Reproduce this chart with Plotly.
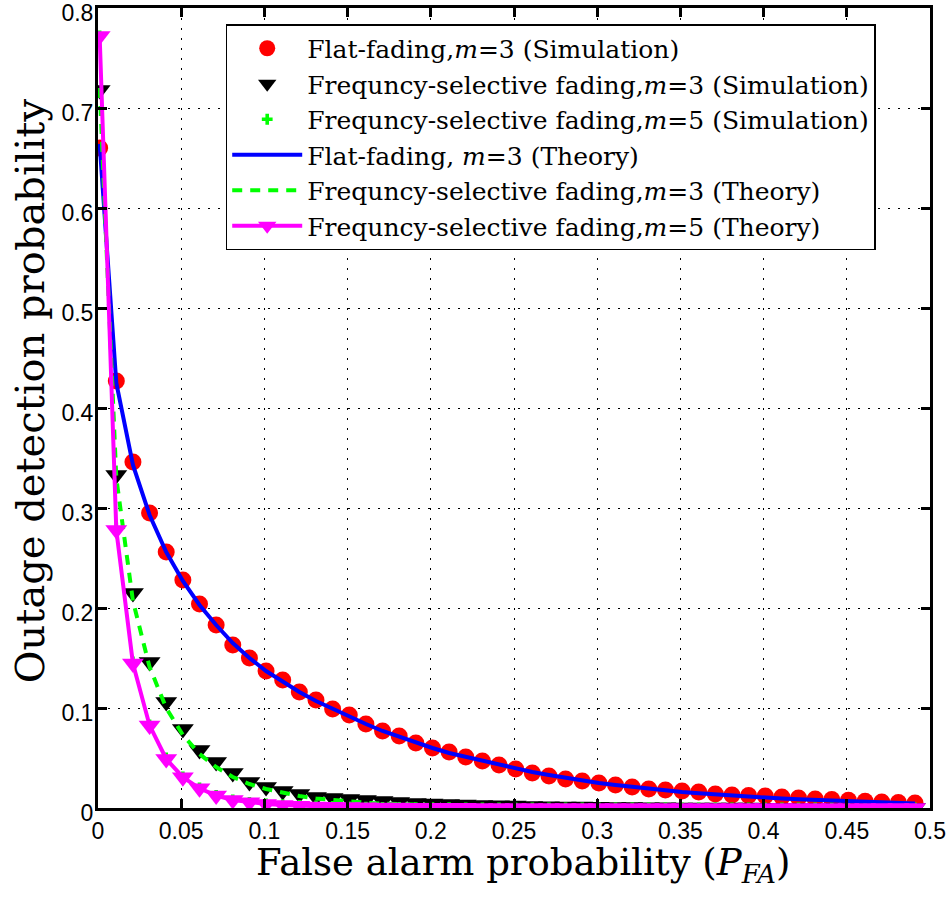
import plotly.graph_objects as go

# x positions (false alarm probability)
pfa = [0.001, 0.011, 0.021, 0.031, 0.041, 0.051, 0.061, 0.071, 0.081, 0.091,
       0.101, 0.111, 0.121, 0.131, 0.141, 0.151, 0.161, 0.171, 0.181, 0.191,
       0.201, 0.211, 0.221, 0.231, 0.241, 0.251, 0.261, 0.271, 0.281, 0.291,
       0.301, 0.311, 0.321, 0.331, 0.341, 0.351, 0.361, 0.371, 0.381, 0.391,
       0.401, 0.411, 0.421, 0.431, 0.441, 0.451, 0.461, 0.471, 0.481, 0.491]

flat_sim = [0.660, 0.427, 0.346, 0.295, 0.256, 0.228, 0.204, 0.183, 0.163, 0.150,
            0.137, 0.128, 0.116, 0.108, 0.099, 0.093, 0.084, 0.077, 0.072, 0.065,
            0.060, 0.056, 0.051, 0.047, 0.043, 0.039, 0.035, 0.032, 0.029, 0.027,
            0.025, 0.023, 0.021, 0.019, 0.018, 0.017, 0.016, 0.014, 0.013, 0.0125,
            0.012, 0.011, 0.010, 0.009, 0.0085, 0.0077, 0.0068, 0.006, 0.0055, 0.005]

fs3_sim = [0.718, 0.333, 0.215, 0.146, 0.106, 0.079, 0.058, 0.046, 0.035, 0.026,
           0.021, 0.017, 0.014, 0.011, 0.010, 0.009, 0.008, 0.007, 0.006, 0.005,
           0.0045, 0.004, 0.0035, 0.003, 0.0027, 0.0024, 0.0021, 0.0018, 0.0016, 0.0014,
           0.0012, 0.001, 0.0009, 0.0008, 0.0007, 0.0006, 0.0005, 0.0005, 0.0004, 0.0004,
           0.0003, 0.0003, 0.0003, 0.0002, 0.0002, 0.0002, 0.0002, 0.0001, 0.0001, 0.0001]

fs5_sim = [0.772, 0.280, 0.146, 0.083, 0.050, 0.031, 0.020, 0.0125, 0.008, 0.0057,
           0.004, 0.0033, 0.0025, 0.002, 0.0015, 0.001, 0.0008, 0.0006, 0.0005, 0.0004,
           0.0003, 0.0003, 0.0002, 0.0002, 0.0002, 0.0001, 0.0001, 0.0001, 0.0001, 0.0001,
           0.0, 0.0, 0.0, 0.0, 0.0, 0.0, 0.0, 0.0, 0.0, 0.0,
           0.0, 0.0, 0.0, 0.0, 0.0, 0.0, 0.0, 0.0, 0.0, 0.0]

flat_theory = [0.664, 0.425, 0.343, 0.293, 0.256, 0.227, 0.203, 0.183, 0.165, 0.150,
               0.137, 0.126, 0.116, 0.107, 0.099, 0.091, 0.084, 0.077, 0.071, 0.065,
               0.060, 0.055, 0.051, 0.047, 0.043, 0.039, 0.036, 0.033, 0.030, 0.027,
               0.025, 0.023, 0.021, 0.019, 0.0175, 0.016, 0.0147, 0.0135, 0.0124, 0.0114,
               0.0104, 0.0095, 0.0087, 0.008, 0.0073, 0.0066, 0.006, 0.0055, 0.005, 0.0045]

fs3_theory = [0.720, 0.330, 0.207, 0.141, 0.100, 0.073, 0.054, 0.041, 0.031, 0.024,
              0.019, 0.015, 0.012, 0.0095, 0.0078, 0.0064, 0.0053, 0.0044, 0.0037, 0.0031,
              0.0026, 0.0022, 0.0019, 0.0016, 0.0014, 0.0012, 0.001, 0.0009, 0.0008, 0.0007,
              0.0006, 0.0005, 0.0004, 0.0004, 0.0003, 0.0003, 0.0002, 0.0002, 0.0002, 0.0002,
              0.0001, 0.0001, 0.0001, 0.0001, 0.0001, 0.0001, 0.0001, 0.0, 0.0, 0.0]

fs5_theory = [0.772, 0.278, 0.1445, 0.0826, 0.049, 0.0308, 0.0197, 0.0124, 0.008, 0.0057,
              0.004, 0.003, 0.0022, 0.0016, 0.0012, 0.0009, 0.0007, 0.0005, 0.0004, 0.0003,
              0.0002, 0.0002, 0.0002, 0.0001, 0.0001, 0.0001, 0.0001, 0.0001, 0.0, 0.0,
              0.0, 0.0, 0.0, 0.0, 0.0, 0.0, 0.0, 0.0, 0.0, 0.0,
              0.0, 0.0, 0.0, 0.0, 0.0, 0.0, 0.0, 0.0, 0.0, 0.0]

x_tick_vals = [0, 0.05, 0.1, 0.15, 0.2, 0.25, 0.3, 0.35, 0.4, 0.45, 0.5]
x_tick_text = ["0", "0.05", "0.1", "0.15", "0.2", "0.25", "0.3", "0.35", "0.4", "0.45", "0.5"]
y_tick_vals = [0, 0.1, 0.2, 0.3, 0.4, 0.5, 0.6, 0.7, 0.8]
y_tick_text = ["0", "0.1", "0.2", "0.3", "0.4", "0.5", "0.6", "0.7", "0.8"]

x_title = "False alarm probability (<i>P</i><sub><i>FA</i></sub>)"
y_title = "Outage detection probability"

names = [
    "Flat-fading,<i>m</i>=3 (Simulation)",
    "Frequncy-selective fading,<i>m</i>=3 (Simulation)",
    "Frequncy-selective fading,<i>m</i>=5 (Simulation)",
    "Flat-fading, <i>m</i>=3 (Theory)",
    "Frequncy-selective fading,<i>m</i>=3 (Theory)",
    "Frequncy-selective fading,<i>m</i>=5 (Theory)",
]

fig = go.Figure()
fig.add_trace(go.Scatter(x=pfa, y=flat_sim, mode="markers", name=names[0],
                         marker=dict(symbol="circle", size=17, color="#ff0000")))
fig.add_trace(go.Scatter(x=pfa, y=fs3_sim, mode="markers", name=names[1],
                         marker=dict(symbol="triangle-down", size=19, color="#000000")))
fig.add_trace(go.Scatter(x=pfa, y=fs5_sim, mode="markers", name=names[2],
                         marker=dict(symbol="cross", size=9, color="#00ff00")))
fig.add_trace(go.Scatter(x=pfa, y=flat_theory, mode="lines", name=names[3],
                         line=dict(color="#0000ff", width=4)))
fig.add_trace(go.Scatter(x=pfa, y=fs3_theory, mode="lines", name=names[4],
                         line=dict(color="#00ff00", width=4, dash="10px,8px")))
fig.add_trace(go.Scatter(x=pfa, y=fs5_theory, mode="lines+markers", name=names[5],
                         line=dict(color="#ff00ff", width=4),
                         marker=dict(symbol="triangle-down", size=19, color="#ff00ff")))

serif = "DejaVu Serif, Liberation Serif, serif"
tick_font = dict(family="Liberation Sans, Arial, sans-serif", size=23, color="black")
axis_common = dict(
    showline=True, linewidth=3, linecolor="black", mirror="allticks",
    ticks="inside", ticklen=9, tickwidth=2.5, tickcolor="black",
    showgrid=True, gridcolor="black", gridwidth=1, griddash="2px,8px",
    zeroline=False, tickfont=tick_font, automargin=False,
    ticklabeloverflow="allow",
)

fig.update_layout(
    width=949, height=905,
    margin=dict(l=98, r=19, t=8, b=97),
    paper_bgcolor="white", plot_bgcolor="white",
    showlegend=True,
    legend=dict(
        x=0.1535, y=0.98, xanchor="left", yanchor="top",
        bgcolor="white", bordercolor="black", borderwidth=1.5,
        font=dict(family=serif, size=25, color="black"),
        itemwidth=70, tracegroupgap=0,
    ),
    xaxis=dict(range=[0, 0.5], tickvals=x_tick_vals, ticktext=x_tick_text,
               **axis_common),
    yaxis=dict(range=[0, 0.8], tickvals=y_tick_vals, ticktext=y_tick_text,
               ticklabelstandoff=-3, ticklabelshift=5, **axis_common),
    annotations=[
        dict(text=x_title, xref="paper", yref="paper", x=0.512, y=-0.040,
             xanchor="center", yanchor="top", showarrow=False, borderpad=0,
             font=dict(family=serif, size=37, color="black")),
        dict(text=y_title, xref="paper", yref="paper", x=-0.0817, y=0.521,
             xanchor="center", yanchor="middle", showarrow=False, textangle=-90,
             borderpad=0, font=dict(family=serif, size=40, color="black")),
    ],
)

fig.write_html("out.html", post_script="document.body.style.margin='0';",
               config={"displayModeBar": False})
